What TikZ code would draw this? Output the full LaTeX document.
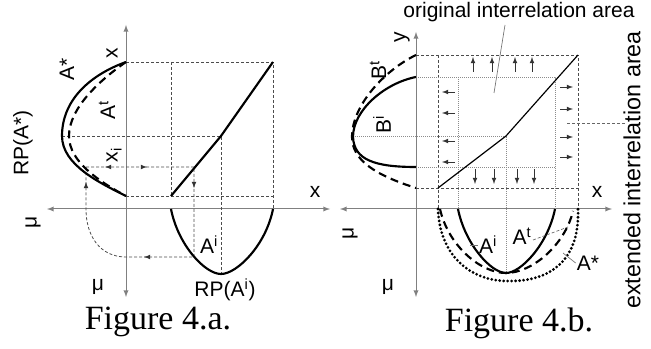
\documentclass[tikz,border=0pt]{standalone}
\usepackage{fontspec}
\setmainfont{Liberation Sans}
\newfontfamily\capfont{Liberation Serif}
\usepackage{tikz}
\usetikzlibrary{arrows}
\tikzstyle{axisline} = [black!50, line width=0.75, >=latex, <->]
\tikzstyle{guide} = [black!70, line width=0.6, dash pattern={on 2.25pt off 1.5pt}]
\tikzstyle{dotguide} = [black!45, line width=0.6, dash pattern={on 0.75pt off 0.75pt}]
\tikzstyle{flowtip} = [black!80, line width=0.6, ->, >=latex]
\tikzstyle{curvebold} = [line width=1.6]
\tikzstyle{curvedash} = [line width=1.6, dash pattern={on 6pt off 3.75pt}]
\tikzstyle{curvedot} = [line width=2.3, line cap=round, dash pattern={on 0pt off 3pt}]
\tikzstyle{leader} = [black!55, line width=0.5]
\tikzstyle{leaderdash} = [black!60, line width=0.5, dash pattern={on 2.25pt off 1.5pt}]
\tikzstyle{lbl} = [font=\fontsize{15.75}{18}\selectfont, inner sep=0.75pt]
\tikzstyle{caption} = [font=\capfont\fontsize{25.5}{28}\selectfont, inner sep=0.75pt]

\begin{document}
\begin{tikzpicture}[x=0.75pt,y=0.75pt,yscale=-1,xscale=1]
\useasboundingbox (0,0) rectangle (651,349);

%%% Figure 4.a.
%Axes
\draw [axisline] (47,209) -- (330,209) ;
\draw [axisline] (126,297) -- (126,25) ;
%Dashed guides
\draw [guide] (126,62) -- (273,62) -- (273,209) ;
\draw [guide] (171,62) -- (171,196) ;
\draw [guide] (126,196) -- (273,196) ;
\draw [guide] (62,136) -- (221,136) -- (221,274) ;
\draw [guide] (86,167) -- (194,167) -- (194,257) -- (126,257) .. controls (100,257) and (86,236) .. (86,209) -- (86,167) ;
%Arrow heads on the guides
\draw [flowtip] (110,167) -- (105,167) ;
\draw [flowtip] (142,167) -- (147,167) ;
\draw [flowtip] (194,183) -- (194,188) ;
\draw [flowtip] (149,257) -- (144,257) ;
\draw [flowtip] (86,187) -- (86,182) ;
%Relation line
\draw [curvebold] (171,196) -- (221,136) -- (273,62) ;
%Curve A^i
\draw [curvebold] (171,209) .. controls (178,245) and (205,274) .. (221,274) .. controls (237,274) and (266,245) .. (273,209) ;
%Curve A*
\draw [curvebold] (126,62) .. controls (90,75) and (62,100) .. (62,136) .. controls (62,165) and (100,183) .. (126,196) ;
%Curve A^t
\draw [curvedash] (126,62) .. controls (100,80) and (69,108) .. (69,136) .. controls (69,162) and (100,182) .. (126,196) ;

% Text Node
\draw (67,69) node (lAstar) [lbl, rotate=90] {A*};
% Text Node
\draw (112,53) node (lxtop) [lbl, rotate=90] {x};
% Text Node
\draw (107,110) node (lAt) [lbl, rotate=90] {A\textsuperscript{t}};
% Text Node
\draw (23,143) node (lRPstar) [lbl, rotate=90] {RP(A*)};
% Text Node
\draw (114,155) node (lxi) [lbl, rotate=90] {x\textsubscript{i}};
% Text Node
\draw (315,192) node (lxa) [lbl] {x};
% Text Node
\draw (33,222) node (lmua) [lbl, rotate=90] {μ};
% Text Node
\draw (98,287) node (lmub) [lbl] {μ};
% Text Node
\draw (209,245) node (lAi) [lbl] {A\textsuperscript{i}};
% Text Node
\draw (225,290) node (lRPi) [lbl] {RP(A\textsuperscript{i})};
% Text Node
\draw (158,322) node (capa) [caption] {Figure 4.a.};

%%% Figure 4.b.
%Axes
\draw [axisline] (340,209) -- (612,209) ;
\draw [axisline] (416,297) -- (416,32) ;
%Extended area
\draw [guide] (416,55) -- (578,55) -- (578,209) ;
\draw [guide] (438,55) -- (438,209) ;
\draw [guide] (416,188) -- (578,188) ;
%Original area
\draw [dotguide] (416,77) -- (555,77) -- (555,209) ;
\draw [dotguide] (416,167) -- (555,167) ;
\draw [dotguide] (458,77) -- (458,209) ;
\draw [dotguide] (353,136) -- (506,136) -- (506,273) ;
%Relation line
\draw [line width=0.9] (438,188) -- (506,136) -- (578,55) ;
%Arrows up
\draw [flowtip] (473,72) -- (473,57) ;
\draw [flowtip] (492,72) -- (492,57) ;
\draw [flowtip] (515,72) -- (515,57) ;
\draw [flowtip] (532,72) -- (532,57) ;
%Arrows left
\draw [flowtip] (455,92) -- (442,92) ;
\draw [flowtip] (455,113) -- (442,113) ;
\draw [flowtip] (455,141) -- (442,141) ;
\draw [flowtip] (455,162) -- (442,162) ;
%Arrows right
\draw [flowtip] (560,87) -- (573,87) ;
\draw [flowtip] (560,109) -- (573,109) ;
\draw [flowtip] (560,137) -- (573,137) ;
\draw [flowtip] (560,157) -- (573,157) ;
%Arrows down
\draw [flowtip] (475,169) -- (475,184) ;
\draw [flowtip] (494,169) -- (494,184) ;
\draw [flowtip] (517,169) -- (517,184) ;
\draw [flowtip] (534,169) -- (534,184) ;
%Curve B^i
\draw [curvebold] (416,77) .. controls (385,83) and (353,110) .. (353,137) .. controls (354,160) and (375,167) .. (416,167) ;
%Curve B^t
\draw [curvedash] (416,55) .. controls (385,70) and (352,105) .. (352,137) .. controls (352,160) and (375,175) .. (416,188) ;
%Curve A^i
\draw [curvebold] (458,209) .. controls (465,244) and (491,273) .. (506,273) .. controls (521,273) and (548,244) .. (555,209) ;
%Curve A^t
\draw [curvedash] (440,209) .. controls (448,245) and (480,273) .. (506,273) .. controls (532,273) and (565,245) .. (573,211) ;
%Curve A*
\draw [curvedot] (438,209) .. controls (440,260) and (475,281) .. (507,281) .. controls (545,282) and (580,265) .. (578,209) ;

% Text Node
\draw (519,12) node (ltop) [lbl] {original interrelation area};
\draw [leader] (505,25) -- (494,93) ;
% Text Node
\draw (632,170) node (lext) [lbl, font=\fontsize{17.5}{20}\selectfont, rotate=90] {extended interrelation area};
\draw [leaderdash] (567,123) -- (626,123) ;
% Text Node
\draw (402,37) node (ly) [lbl, rotate=90] {y};
% Text Node
\draw (378,70) node (lBt) [lbl, rotate=90] {B\textsuperscript{t}};
% Text Node
\draw (382,125) node (lBi) [lbl, rotate=90] {B\textsuperscript{i}};
% Text Node
\draw (597,192) node (lxb) [lbl] {x};
% Text Node
\draw (350,233) node (lmuc) [lbl, rotate=90] {μ};
% Text Node
\draw (388,287) node (lmud) [lbl] {μ};
% Text Node
\draw (488,245) node (lAib) [lbl] {A\textsuperscript{i}};
\draw [leader] (lAib.west) -- (470,245) ;
% Text Node
\draw (522,236) node (lAtb) [lbl] {A\textsuperscript{t}};
\draw [leaderdash] (533,240) -- (568,227) ;
% Text Node
\draw (588,263) node (lAstb) [lbl] {A*};
\draw [leader] (lAstb.west) -- (563,253) ;
% Text Node
\draw (519,323) node (capb) [caption] {Figure 4.b.};

\end{tikzpicture}
\end{document}
